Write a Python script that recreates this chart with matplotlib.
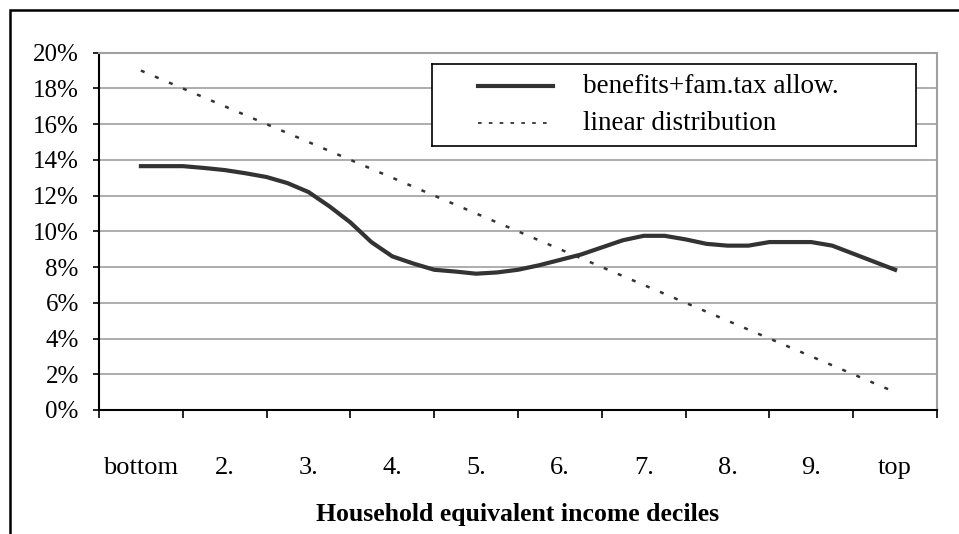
import numpy as np
import matplotlib
matplotlib.use("Agg")
import matplotlib.pyplot as plt
from matplotlib.patches import Rectangle
from matplotlib.ticker import PercentFormatter, MultipleLocator

plt.rcParams['font.family'] = ['Liberation Serif', 'DejaVu Serif']

deciles = ['bottom', '2.', '3.', '4.', '5.', '6.', '7.', '8.', '9.', 'top']

# benefits share, read at quarter-decile steps (x = 1, 1.25, ..., 10)
benefit_x = np.arange(1, 10.01, 0.25)
benefit_share = [13.65, 13.65, 13.65, 13.55, 13.43, 13.25, 13.04, 12.7, 12.2,
                 11.4, 10.5, 9.4, 8.6, 8.2, 7.85, 7.75, 7.63, 7.7, 7.85,
                 8.1, 8.4, 8.7, 9.1, 9.5, 9.75, 9.75, 9.55, 9.3, 9.2,
                 9.2, 9.4, 9.4, 9.4, 9.2, 8.75, 8.3, 7.85]

linear_x = np.arange(1, 11)
linear_share = [19, 17, 15, 13, 11, 9, 7, 5, 3, 1]

fig = plt.figure(figsize=(9.59, 5.34), dpi=100)
ax = fig.add_axes([99/959, 1-410/534, (937-99)/959, (410-52.7)/534])

ax.plot(benefit_x, benefit_share, color='#333333', lw=3, solid_joinstyle='miter')
ax.plot(linear_x, linear_share, color='#333333', lw=1.8, linestyle=(0, (1.6, 4.5)))

ax.set_xlim(0.5, 10.5)
ax.set_ylim(0, 20)
ax.yaxis.set_major_locator(MultipleLocator(2))
ax.yaxis.set_major_formatter(PercentFormatter(decimals=0))
ax.grid(axis='y', color='#a0a0a0', lw=1.2)
ax.set_axisbelow(True)

ax.set_xticks(linear_x)
ax.set_xticklabels(deciles)
ax.set_xticks(np.arange(0.5, 10.6, 1), minor=True)
ax.tick_params(axis='x', which='major', length=0, pad=34, labelsize=19)
ax.tick_params(axis='x', which='minor', length=6, width=1.2, direction='out')
ax.tick_params(axis='y', length=4.5, width=1.2, pad=10, labelsize=18)

for s in ['left', 'bottom']:
    ax.spines[s].set_color('black')
    ax.spines[s].set_linewidth(1.5)
for s in ['top', 'right']:
    ax.spines[s].set_color('#a0a0a0')
    ax.spines[s].set_linewidth(1.5)

ax.set_xlabel('Household equivalent income deciles', fontsize=18.5,
              fontweight='bold', labelpad=17)

# legend box
lg = fig.add_axes([432/959, 1-146/534, (916-432)/959, (146-64)/534])
lg.set_xlim(432, 916)
lg.set_ylim(146, 64)
lg.set_xticks([])
lg.set_yticks([])
for s in lg.spines.values():
    s.set_linewidth(1.2)
lg.plot([478, 553], [86, 86], color='#333333', lw=3)
lg.plot([478, 553], [123, 123], color='#333333', lw=1.3, linestyle=(0, (2, 4)))
lg.text(583, 86, 'benefits+fam.tax allow.', fontsize=19.5, va='center')
lg.text(583, 123, 'linear distribution', fontsize=19.5, va='center')

fig.add_artist(Rectangle((10/959, -0.1), 1.1, 1.1 - 10/534,
                         transform=fig.transFigure, fill=False,
                         edgecolor='black', lw=1.8))

fig.savefig('out.png', dpi=100)
